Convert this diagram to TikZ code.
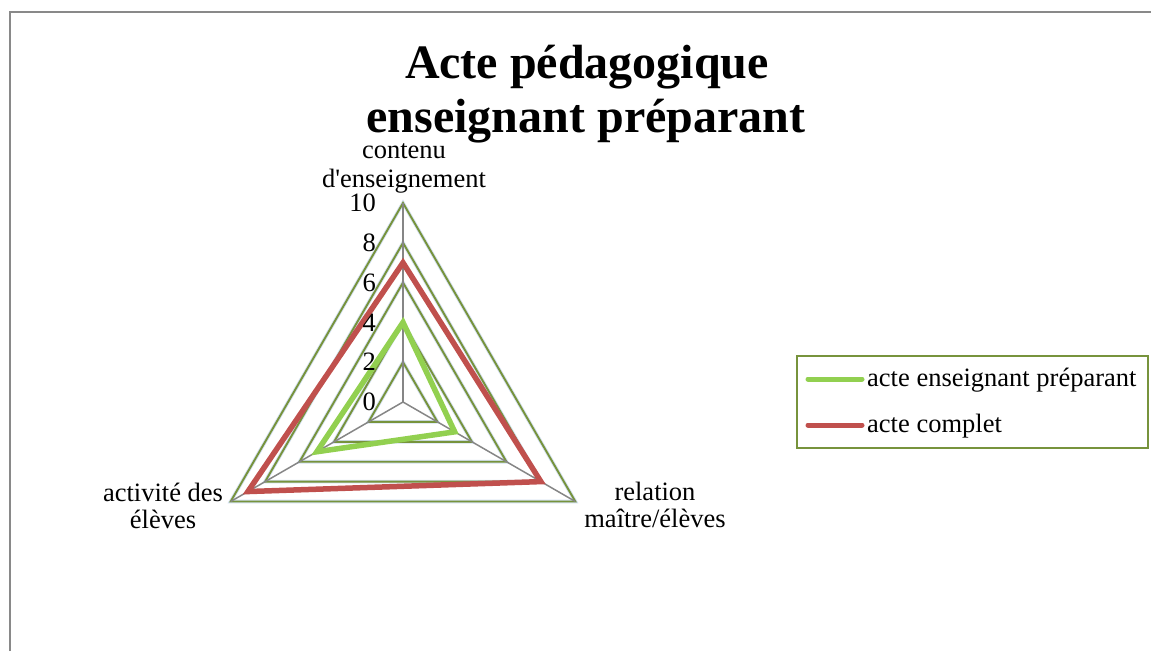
\documentclass[tikz,border=0pt]{standalone}
\usepackage{fontspec}
\setmainfont{Liberation Serif}
\usetikzlibrary{calc}
\definecolor{gridgreen}{HTML}{77933C}
\definecolor{gridhalo}{HTML}{D3E0F0}
\definecolor{spokegray}{HTML}{868686}
\definecolor{sergreen}{HTML}{92D050}
\definecolor{serred}{HTML}{C0504D}
\definecolor{framegray}{HTML}{898989}
\tikzset{
  lbl/.style={inner sep=0pt, font=\fontsize{26.5}{28}\selectfont},
  ttl/.style={inner sep=0pt, font=\fontsize{48}{53}\selectfont\bfseries},
  tick/.style={inner sep=0pt, anchor=east, font=\fontsize{26.5}{28}\selectfont},
  gridhalo/.style={draw=gridhalo, line width=3.6pt, line join=miter},
  gridline/.style={draw=gridgreen, line width=1.9pt, line join=miter},
  spoke/.style={draw=spokegray, line width=1.5pt},
  series/.style={line width=5.5pt, line join=miter, miter limit=10},
  legline/.style={line width=5pt, line cap=round}
}
\begin{document}
\begin{tikzpicture}[x=1pt,y=-1pt]
\useasboundingbox (0,0) rectangle (1151,651);
% frame
\draw[framegray, line width=1.5pt] (10,651) -- (10,12) -- (1151,12);
% title
\node[ttl, anchor=base] (t1) at (587,78) {Acte pédagogique};
\node[ttl, anchor=base] (t2) at (586,132) {enseignant préparant};
% radar
\begin{scope}[shift={(403,402)}]
  \coordinate (C) at (0,0);
  \foreach \v in {2,4,6,8,10}{
    \draw[gridhalo] (-90:19.9*\v) -- (30:19.9*\v) -- (150:19.9*\v) -- cycle;
  }
  \foreach \v in {2,4,6,8,10}{
    \draw[gridline] (-90:19.9*\v) -- (30:19.9*\v) -- (150:19.9*\v) -- cycle;
  }
  \coordinate (vT) at (-90:199);
  \coordinate (vR) at (30:199);
  \coordinate (vL) at (150:199);
  \draw[spoke] (C) -- (vT);
  \draw[spoke] (C) -- (vR);
  \draw[spoke] (C) -- (vL);
  % series
  \draw[series, sergreen] (-90:19.9*4) -- (30:19.9*3) -- (150:19.9*5) -- cycle;
  \draw[series, serred] (-90:19.9*7) -- (30:19.9*8) -- (150:19.9*9) -- cycle;
  % tick labels
  \foreach \v in {0,2,4,6,8,10}{
    \node[tick] (k\v) at (-27,-19.9*\v) {\v};
  }
\end{scope}
% axis labels
\node[lbl, anchor=base] (a1) at (404,158) {contenu};
\node[lbl, anchor=base] (a2) at (404,187) {d\textquotesingle enseignement};
\node[lbl, anchor=base] (b1) at (163,501) {activité des};
\node[lbl, anchor=base] (b2) at (163,528) {élèves};
\node[lbl, anchor=base] (c1) at (655,500) {relation};
\node[lbl, anchor=base] (c2) at (655,527) {maître/élèves};
% legend
\draw[gridgreen, line width=1.5pt] (797,356) rectangle (1148,448);
\coordinate (g1) at (808,379);
\coordinate (g2) at (862,379);
\coordinate (r1) at (808,425);
\coordinate (r2) at (862,425);
\draw[legline, sergreen] (g1) -- (g2);
\draw[legline, serred] (r1) -- (r2);
\node[lbl, anchor=base west] (l1) at (867,386.5) {acte enseignant préparant};
\node[lbl, anchor=base west] (l2) at (867,432.5) {acte complet};
\end{tikzpicture}
\end{document}
